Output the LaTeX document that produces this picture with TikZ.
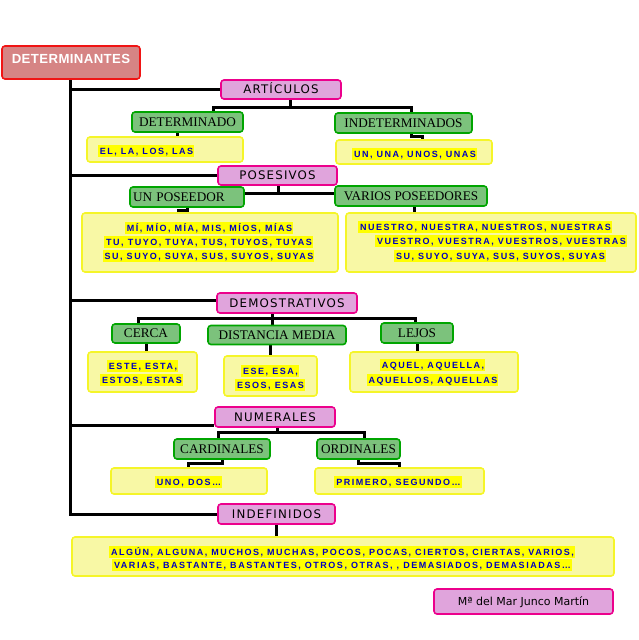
\documentclass[tikz,border=0pt]{standalone}
\usepackage{fontspec}
\setmainfont{Liberation Serif}
\newfontfamily\yelfont[LetterSpace=17]{Liberation Sans}
\newfontfamily\pinkfont[LetterSpace=10]{DejaVu Sans}
\newfontfamily\titlefont[LetterSpace=3]{Liberation Sans}
\newfontfamily\creditfont{DejaVu Sans}
\definecolor{redfill}{RGB}{214,132,132}
\definecolor{redline}{RGB}{240,20,20}
\definecolor{pinkfill}{RGB}{224,164,220}
\definecolor{pinkline}{RGB}{236,0,140}
\definecolor{greenfill}{RGB}{124,194,124}
\definecolor{greenline}{RGB}{0,165,0}
\definecolor{yelfill}{RGB}{248,248,165}
\definecolor{yelline}{RGB}{245,245,40}
\definecolor{hly}{RGB}{255,255,0}
\definecolor{bluetext}{RGB}{0,0,190}
\newcommand\hlline[1]{{\setlength\fboxsep{0pt}\colorbox{hly}{\hspace{2pt}\rule[-3.2pt]{0pt}{12.6pt}#1\hspace{1pt}}}}
\pgfdeclarelayer{bg}
\pgfsetlayers{bg,main}
\begin{document}
\begin{tikzpicture}[x=1pt,y=-1pt,
  box/.style={draw, rounded corners=3pt, line width=1.6pt, inner sep=0pt},
  redbox/.style={box, draw=redline, fill=redfill},
  pinkbox/.style={box, draw=pinkline, fill=pinkfill, font=\pinkfont\fontsize{11.8}{13}\selectfont, text height=8.6pt, text depth=0pt},
  greenbox/.style={box, draw=greenline, fill=greenfill, font=\fontsize{13.2}{15}\selectfont, text height=8.7pt, text depth=0pt},
  yelbox/.style={box, draw=yelline, fill=yelfill},
  yt/.style={inner sep=0pt, anchor=base, text=bluetext, font=\yelfont\bfseries\fontsize{9}{14}\selectfont},
  conn/.style={line width=3pt, draw=black},
]
\useasboundingbox (0,0) rectangle (638,640);

% category boxes
\node[redbox, minimum width=138pt, minimum height=33pt, text=white,
  font=\titlefont\bfseries\fontsize{13.2}{15}\selectfont,
  text height=14pt, text depth=13pt, inner ysep=3pt] (det) at (71,62.5) {DETERMINANTES};
\node[pinkbox, minimum width=120pt, minimum height=19pt] (art) at (281,89.5) {ARTÍCULOS};
\node[greenbox, minimum width=111pt, minimum height=20pt] (detdo) at (187.5,122) {DETERMINADO};
\node[greenbox, minimum width=137pt, minimum height=20pt] (indet) at (403.5,123) {INDETERMINADOS};
\node[yelbox, minimum width=156pt, minimum height=25pt] (elbox) at (165,149.5) {};
\node[yelbox, minimum width=156pt, minimum height=24pt] (unbox) at (414,152) {};

\node[pinkbox, minimum width=119pt, minimum height=19pt] (pos) at (277.5,175.5) {POSESIVOS};
\node[greenbox, text width=108pt, inner xsep=3pt, align=left, minimum height=20pt] (unpos) at (187,197) {UN POSEEDOR};
\node[greenbox, minimum width=152pt, minimum height=20pt] (varpos) at (411,196) {VARIOS POSEEDORES};
\node[yelbox, minimum width=256pt, minimum height=59pt] (pbox1) at (210,242.5) {};
\node[yelbox, minimum width=290pt, minimum height=59pt] (pbox2) at (491,242.5) {};

\node[pinkbox, minimum width=140pt, minimum height=20pt] (demo) at (287,303) {DEMOSTRATIVOS};
\node[greenbox, minimum width=68pt, minimum height=19pt] (cerca) at (146,333.5) {CERCA};
\node[greenbox, minimum width=138pt, minimum height=19pt] (dist) at (277,335) {DISTANCIA MEDIA};
\node[greenbox, minimum width=72pt, minimum height=20pt] (lejos) at (417,333) {LEJOS};
\node[yelbox, minimum width=109pt, minimum height=40pt] (estebox) at (142.5,372) {};
\node[yelbox, minimum width=93pt, minimum height=40pt] (esebox) at (270.5,376) {};
\node[yelbox, minimum width=168pt, minimum height=40pt] (aquelbox) at (434,372) {};

\node[pinkbox, minimum width=120pt, minimum height=20pt] (num) at (275,417) {NUMERALES};
\node[greenbox, minimum width=96pt, minimum height=20pt] (card) at (222,449) {CARDINALES};
\node[greenbox, minimum width=83pt, minimum height=20pt] (ord) at (358.5,449) {ORDINALES};
\node[yelbox, minimum width=156pt, minimum height=26pt] (unobox) at (189,481) {};
\node[yelbox, minimum width=169pt, minimum height=26pt] (primbox) at (399.5,481) {};

\node[pinkbox, minimum width=117pt, minimum height=20pt] (indef) at (276.5,514) {INDEFINIDOS};
\node[yelbox, minimum width=542pt, minimum height=39pt] (indefbox) at (343,556.5) {};

\node[pinkbox, minimum width=179pt, minimum height=25pt, font=\creditfont\fontsize{11}{12}\selectfont, text height=8.2pt] (credit) at (523.5,601.5) {Mª del Mar Junco Martín};

% yellow texts
\node[yt] (t1) at (146,154) {\hlline{EL, LA, LOS, LAS}};
\node[yt] (t2) at (414.5,157) {\hlline{UN, UNA, UNOS, UNAS}};
\node[yt] (t3) at (209,231) {\hlline{MÍ, MÍO, MÍA, MIS, MÍOS, MÍAS}};
\node[yt] (t4) at (208.5,245) {\hlline{TU, TUYO, TUYA, TUS, TUYOS, TUYAS}};
\node[yt] (t5) at (208.5,259) {\hlline{SU, SUYO, SUYA, SUS, SUYOS, SUYAS}};
\node[yt] (t6) at (485,230) {\hlline{NUESTRO, NUESTRA, NUESTROS, NUESTRAS}};
\node[yt] (t7) at (501,244) {\hlline{VUESTRO, VUESTRA, VUESTROS, VUESTRAS}};
\node[yt] (t8) at (500,259) {\hlline{SU, SUYO, SUYA, SUS, SUYOS, SUYAS}};
\node[yt] (t9) at (142.5,369) {\hlline{ESTE, ESTA,}};
\node[yt] (t10) at (141.5,383) {\hlline{ESTOS, ESTAS}};
\node[yt] (t11) at (270,374) {\hlline{ESE, ESA,}};
\node[yt] (t12) at (270,388) {\hlline{ESOS, ESAS}};
\node[yt] (t13) at (432.5,368) {\hlline{AQUEL, AQUELLA,}};
\node[yt] (t14) at (432.5,383) {\hlline{AQUELLOS, AQUELLAS}};
\node[yt] (t15) at (188.5,485) {\hlline{UNO, DOS…}};
\node[yt] (t16) at (398,485) {\hlline{PRIMERO, SEGUNDO…}};
\node[yt] (t17) at (342,555) {\hlline{ALGÚN, ALGUNA, MUCHOS, MUCHAS, POCOS, POCAS, CIERTOS, CIERTAS, VARIOS,}};
\node[yt] (t18) at (342,568) {\hlline{VARIAS, BASTANTE, BASTANTES, OTROS, OTRAS, , DEMASIADOS, DEMASIADAS…}};

% connector helper coordinates
\coordinate (trunk) at (70,0);
\coordinate (artL) at (213,107);
\coordinate (artR) at (411,107);
\coordinate (artM) at (290,107);
\coordinate (dl) at (177,0);
\coordinate (iu1) at (411,136);
\coordinate (iu2) at (422,136);
\coordinate (posbus) at (278,193);
\coordinate (up1) at (187,210);
\coordinate (up2) at (178,210);
\coordinate (vp) at (414,0);
\coordinate (dL) at (138,318);
\coordinate (dR) at (415,318);
\coordinate (dM) at (272,318);
\coordinate (dm2) at (270,0);
\coordinate (nL) at (218,432);
\coordinate (nR) at (364,432);
\coordinate (nM) at (277,432);
\coordinate (c1) at (222,463);
\coordinate (c2) at (188,463);
\coordinate (o1) at (358,463);
\coordinate (o2) at (399,463);
\coordinate (im) at (276,0);

\begin{pgfonlayer}{bg}
\draw[conn] (det.south -| trunk) -- (trunk |- indef) -- (indef.west);
\draw[conn] ([yshift=0.5pt]art.west -| trunk) -- ([yshift=0.5pt]art.west);
\draw[conn] (pos.west -| trunk) -- (pos.west);
\draw[conn] ([yshift=3pt]demo.west -| trunk) -- ([yshift=3pt]demo.west);
\draw[conn] ([yshift=2.5pt]num.south -| trunk) -- ([yshift=2.5pt]num.south -| num.west);

\draw[conn] (art.south -| artM) -- (artM);
\draw[conn] (detdo.north -| artL) -- (artL) -- (artR) -- (indet.north -| artR);
\draw[conn] (detdo.south -| dl) -- (elbox.north -| dl);
\draw[conn] (indet.south -| iu1) -- (iu1) -- (iu2) -- (unbox.north -| iu2);

\draw[conn] (unpos.east |- posbus) -- (varpos.west |- posbus);
\draw[conn] (pos.south -| posbus) -- (posbus);
\draw[conn] (unpos.south -| up1) -- (up1) -- (up2) -- (pbox1.north -| up2);
\draw[conn] (varpos.south -| vp) -- (pbox2.north -| vp);

\draw[conn] (cerca.north -| dL) -- (dL) -- (dR) -- (lejos.north -| dR);
\draw[conn] (demo.south -| dM) -- (dist.north -| dM);
\draw[conn] (cerca.south) -- (estebox.north -| cerca.south);
\draw[conn] (dist.south -| dm2) -- (esebox.north -| dm2);
\draw[conn] (lejos.south) -- (aquelbox.north -| lejos.south);

\draw[conn] (card.north -| nL) -- (nL) -- (nR) -- (ord.north -| nR);
\draw[conn] (num.south -| nM) -- (nM);
\draw[conn] (card.south -| c1) -- (c1) -- (c2) -- (unobox.north -| c2);
\draw[conn] (ord.south -| o1) -- (o1) -- (o2) -- (primbox.north -| o2);

\draw[conn] (indef.south -| im) -- (indefbox.north -| im);
\end{pgfonlayer}
\end{tikzpicture}
\end{document}
